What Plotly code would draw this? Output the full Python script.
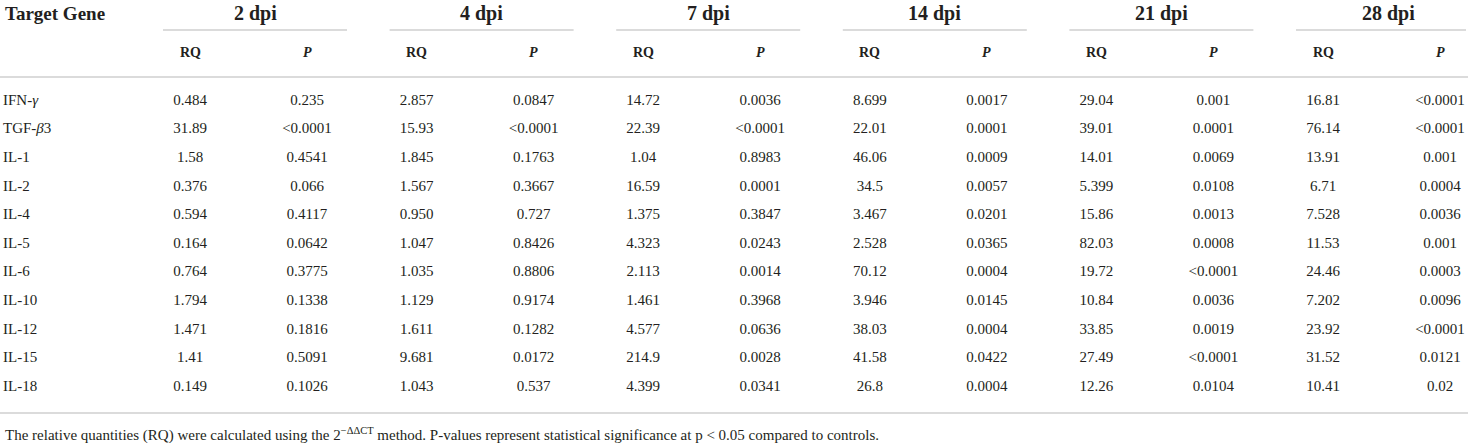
import plotly.graph_objects as go

# table content
genes = ["IFN-<i>γ</i>", "TGF-<i>β</i>3", "IL-1", "IL-2", "IL-4", "IL-5",
         "IL-6", "IL-10", "IL-12", "IL-15", "IL-18"]
timepoints = ["2 dpi", "4 dpi", "7 dpi", "14 dpi", "21 dpi", "28 dpi"]

rq_2dpi = ["0.484", "31.89", "1.58", "0.376", "0.594", "0.164", "0.764", "1.794", "1.471", "1.41", "0.149"]
p_2dpi = ["0.235", "<0.0001", "0.4541", "0.066", "0.4117", "0.0642", "0.3775", "0.1338", "0.1816", "0.5091", "0.1026"]
rq_4dpi = ["2.857", "15.93", "1.845", "1.567", "0.950", "1.047", "1.035", "1.129", "1.611", "9.681", "1.043"]
p_4dpi = ["0.0847", "<0.0001", "0.1763", "0.3667", "0.727", "0.8426", "0.8806", "0.9174", "0.1282", "0.0172", "0.537"]
rq_7dpi = ["14.72", "22.39", "1.04", "16.59", "1.375", "4.323", "2.113", "1.461", "4.577", "214.9", "4.399"]
p_7dpi = ["0.0036", "<0.0001", "0.8983", "0.0001", "0.3847", "0.0243", "0.0014", "0.3968", "0.0636", "0.0028", "0.0341"]
rq_14dpi = ["8.699", "22.01", "46.06", "34.5", "3.467", "2.528", "70.12", "3.946", "38.03", "41.58", "26.8"]
p_14dpi = ["0.0017", "0.0001", "0.0009", "0.0057", "0.0201", "0.0365", "0.0004", "0.0145", "0.0004", "0.0422", "0.0004"]
rq_21dpi = ["29.04", "39.01", "14.01", "5.399", "15.86", "82.03", "19.72", "10.84", "33.85", "27.49", "12.26"]
p_21dpi = ["0.001", "0.0001", "0.0069", "0.0108", "0.0013", "0.0008", "<0.0001", "0.0036", "0.0019", "<0.0001", "0.0104"]
rq_28dpi = ["16.81", "76.14", "13.91", "6.71", "7.528", "11.53", "24.46", "7.202", "23.92", "31.52", "10.41"]
p_28dpi = ["<0.0001", "<0.0001", "0.001", "0.0004", "0.0036", "0.001", "0.0003", "0.0096", "<0.0001", "0.0121", "0.02"]

rq_cols = [rq_2dpi, rq_4dpi, rq_7dpi, rq_14dpi, rq_21dpi, rq_28dpi]
p_cols = [p_2dpi, p_4dpi, p_7dpi, p_14dpi, p_21dpi, p_28dpi]

footnote = ("The relative quantities (RQ) were calculated using the 2<sup>−ΔΔCT</sup> method. "
            "P-values represent statistical significance at p &lt; 0.05 compared to controls.")

W, H = 1468, 443
FONT = "Liberation Serif"
INK = "#231f20"
RULE = "#cfcfcf"

# layout in pixel units (axes span the whole page)
group_step = 226.6
rq_x0, p_x0 = 190, 307
row_y0, row_step = 101, 28.6
head_y, sub_y = 13, 52


def esc(s):
    return s.replace("<", "&lt;")


fig = go.Figure()

# gene names, left aligned
fig.add_trace(go.Scatter(
    x=[3] * len(genes), y=[row_y0 + i * row_step for i in range(len(genes))],
    text=genes, mode="text", textposition="middle right",
    textfont=dict(family=FONT, size=15, color=INK), hoverinfo="skip", showlegend=False,
))

# values
xs, ys, ts = [], [], []
for k, (rq, p) in enumerate(zip(rq_cols, p_cols)):
    for i in range(len(genes)):
        y = row_y0 + i * row_step
        xs += [rq_x0 + k * group_step, p_x0 + k * group_step]
        ys += [y, y]
        ts += [esc(rq[i]), esc(p[i])]
fig.add_trace(go.Scatter(
    x=xs, y=ys, text=ts, mode="text", textposition="middle center",
    textfont=dict(family=FONT, size=15, color=INK), hoverinfo="skip", showlegend=False,
))

ann = [dict(x=3, y=head_y, text="<b>Target Gene</b>", xanchor="left",
            font=dict(size=19))]
shapes = []
for k, tp in enumerate(timepoints):
    x_l = rq_x0 - 27 + k * group_step
    x_r = min(p_x0 + 40 + k * group_step, W - 2)
    ann.append(dict(x=(rq_x0 - 27 + p_x0 + 40) / 2 + k * group_step, y=head_y,
                    text=f"<b>{tp}</b>", font=dict(size=20)))
    ann.append(dict(x=rq_x0 + k * group_step, y=sub_y, text="<b>RQ</b>", font=dict(size=14)))
    ann.append(dict(x=p_x0 + k * group_step, y=sub_y, text="<b><i>P</i></b>", font=dict(size=14)))
    shapes.append(dict(type="line", x0=x_l, x1=x_r, y0=30, y1=30,
                       line=dict(color=RULE, width=1.3)))

for y in (77, 413):
    shapes.append(dict(type="line", x0=0, x1=W, y0=y, y1=y, line=dict(color=RULE, width=1.3)))

ann.append(dict(x=3, y=434, text=footnote, xanchor="left", font=dict(size=15)))

for a in ann:
    a.setdefault("xanchor", "center")
    a.update(xref="x", yref="y", yanchor="middle", showarrow=False)
    a["font"] = dict(family=FONT, color=INK, **a["font"])

fig.update_layout(
    width=W, height=H, margin=dict(l=0, r=0, t=0, b=0),
    paper_bgcolor="white", plot_bgcolor="white",
    xaxis=dict(range=[0, W], visible=False, fixedrange=True),
    yaxis=dict(range=[H, 0], visible=False, fixedrange=True),
    annotations=ann, shapes=shapes,
)

# drop the browser's default body margin so the page maps 1:1 onto the window
fig.write_html("out.html", config={"displayModeBar": False},
               post_script="document.body.style.margin='0';"
               "document.body.style.overflow='hidden';")
